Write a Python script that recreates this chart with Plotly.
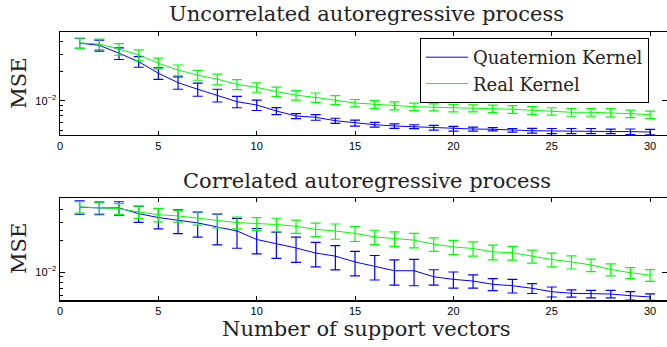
import plotly.graph_objects as go

n_sv = list(range(1, 31))

# Uncorrelated autoregressive process
unc_quat = [0.0388, 0.0369, 0.0306, 0.0251, 0.0191, 0.0153, 0.0131, 0.0114, 0.00977, 0.00904,
            0.00784, 0.00697, 0.00676, 0.00624, 0.00591, 0.00568, 0.00551, 0.00542, 0.00529, 0.00517,
            0.00513, 0.00510, 0.00498, 0.00493, 0.00490, 0.00490, 0.00490, 0.00486, 0.00482, 0.00478]
unc_quat_err = [0.0045, 0.0048, 0.0042, 0.0031, 0.0026, 0.0022, 0.0020, 0.0017, 0.0013, 0.0011,
                0.00064, 0.00041, 0.00045, 0.00037, 0.00042, 0.00031, 0.00029, 0.00025, 0.00029, 0.00028,
                0.00024, 0.00020, 0.00021, 0.00027, 0.00029, 0.00029, 0.00029, 0.00026, 0.00031, 0.00031]
unc_real = [0.0390, 0.0380, 0.0338, 0.0294, 0.0242, 0.0206, 0.0183, 0.0166, 0.0147, 0.0137,
            0.0124, 0.0114, 0.0108, 0.0102, 0.00947, 0.00919, 0.00889, 0.00868, 0.00856, 0.00842,
            0.00836, 0.00828, 0.00817, 0.00797, 0.00779, 0.00761, 0.00761, 0.00754, 0.00736, 0.00719]
unc_real_err = [0.0046, 0.0046, 0.0046, 0.0038, 0.0031, 0.0026, 0.0021, 0.0021, 0.0017, 0.0015,
                0.00136, 0.00125, 0.00119, 0.00108, 0.00082, 0.00083, 0.00084, 0.00078, 0.00070, 0.00073,
                0.00069, 0.00072, 0.00074, 0.00072, 0.00068, 0.00068, 0.00068, 0.00075, 0.00064, 0.00063]

# Correlated autoregressive process
cor_quat = [0.0418, 0.0410, 0.0410, 0.0362, 0.0332, 0.0313, 0.0295, 0.0270, 0.0247, 0.0205,
            0.0188, 0.0170, 0.0152, 0.0142, 0.0125, 0.0114, 0.0103, 0.0103, 0.00902, 0.00852,
            0.00821, 0.00764, 0.00741, 0.00700, 0.00649, 0.00627, 0.00617, 0.00617, 0.00595, 0.00578]
cor_quat_err = [0.0061, 0.0057, 0.0060, 0.0063, 0.0073, 0.0080, 0.0079, 0.0088, 0.0078, 0.0056,
                0.0053, 0.0046, 0.0040, 0.0037, 0.0033, 0.0030, 0.0028, 0.0029, 0.0015, 0.0015,
                0.0012, 0.0010, 0.0011, 0.00076, 0.00071, 0.00050, 0.00051, 0.00051, 0.00054, 0.00042]
cor_real = [0.0419, 0.0410, 0.0404, 0.0375, 0.0354, 0.0344, 0.0329, 0.0313, 0.0297, 0.0291,
            0.0285, 0.0274, 0.0256, 0.0247, 0.0234, 0.0217, 0.0209, 0.0202, 0.0185, 0.0174,
            0.0168, 0.0156, 0.0153, 0.0142, 0.0132, 0.0125, 0.0117, 0.0106, 0.00985, 0.00936]
cor_real_err = [0.0053, 0.0049, 0.0048, 0.0051, 0.0052, 0.0044, 0.0048, 0.0048, 0.0038, 0.0041,
                0.0042, 0.0040, 0.0038, 0.0041, 0.0038, 0.0034, 0.0033, 0.0032, 0.0027, 0.0027,
                0.0026, 0.0025, 0.0023, 0.0020, 0.0020, 0.0018, 0.0016, 0.0014, 0.0012, 0.0012]

x_ticks = [0, 5, 10, 15, 20, 25, 30]
y_ticks = [0.01]
y_ticktext = ["10<sup>\u22122</sup>"]

BLUE = "rgb(0,0,255)"
GREEN = "rgb(0,255,0)"
SERIF = "DejaVu Serif"
SANS = "Liberation Sans"
W, H, L = 667, 347, 60

fig = go.Figure()


def add_series(x, y, err, color, name, xa, ya, show):
    fig.add_trace(go.Scatter(
        x=x, y=y, mode="lines", name=name, showlegend=show,
        line=dict(color=color, width=1),
        error_y=dict(type="data", array=err, visible=True, color=color, thickness=1.2, width=5),
        xaxis=xa, yaxis=ya,
    ))


add_series(n_sv, unc_quat, unc_quat_err, BLUE, "Quaternion Kernel", "x", "y", True)
add_series(n_sv, unc_real, unc_real_err, GREEN, "Real Kernel", "x", "y", True)
add_series(n_sv, cor_quat, cor_quat_err, BLUE, "Quaternion Kernel", "x2", "y2", False)
add_series(n_sv, cor_real, cor_real_err, GREEN, "Real Kernel", "x2", "y2", False)

# invisible traces so the right-side tick axes are drawn
fig.add_trace(go.Scatter(x=n_sv, y=unc_real, mode="lines", line=dict(width=0), opacity=0,
                         showlegend=False, hoverinfo="skip", xaxis="x", yaxis="y3"))
fig.add_trace(go.Scatter(x=n_sv, y=cor_real, mode="lines", line=dict(width=0), opacity=0,
                         showlegend=False, hoverinfo="skip", xaxis="x2", yaxis="y4"))

xr = [0, 30.86]
top_dom = [0.6110, 0.9069]
bot_dom = [0.1354, 0.4285]
top_range = [-2.351, -1.300]
bot_range = [-2.267, -1.295]

xcommon = dict(range=xr, tickvals=x_ticks, ticks="inside", ticklen=4, tickcolor="black",
               showline=True, linecolor="black", linewidth=1.5, mirror="ticks", showgrid=False,
               zeroline=False, tickfont=dict(family=SANS, size=11, color="black"))
ycommon = dict(type="log", tickvals=y_ticks, ticktext=y_ticktext, ticks="inside", ticklen=5,
               tickcolor="black", showline=True, linecolor="black", linewidth=1.5, mirror=False,
               showgrid=False, zeroline=False, tickfont=dict(family=SANS, size=11, color="black"),
               minor=dict(ticks="inside", ticklen=3, tickcolor="black", dtick="D1", showgrid=False))
yright = dict(type="log", tickvals=y_ticks, ticks="inside", ticklen=5, tickcolor="black",
              showline=False, showgrid=False, zeroline=False, showticklabels=False, side="right")

fig.update_layout(
    width=W, height=H,
    margin=dict(l=L, r=0, t=0, b=0),
    paper_bgcolor="white", plot_bgcolor="white",
    xaxis=dict(domain=[0, 1], anchor="y", **xcommon),
    yaxis=dict(domain=top_dom, anchor="x", range=top_range, **ycommon),
    xaxis2=dict(domain=[0, 1], anchor="y2", **xcommon),
    yaxis2=dict(domain=bot_dom, anchor="x2", range=bot_range, **ycommon),
    yaxis3=dict(overlaying="y", anchor="x", range=top_range, **yright),
    yaxis4=dict(overlaying="y2", anchor="x2", range=bot_range, **yright),
    legend=dict(x=(420 - L) / (W - L), y=1 - 38 / H, xanchor="left", yanchor="top",
                bordercolor="black", borderwidth=1, bgcolor="white", itemwidth=42,
                font=dict(family=SERIF, size=18, color="#222"), tracegroupgap=0),
    showlegend=True,
)


def px_x(px):
    return (px - L) / (W - L)


def px_y(py):
    return 1 - py / H


ann = [
    dict(text="Uncorrelated autoregressive process", x=366, y=13.5, size=21),
    dict(text="Correlated autoregressive process", x=367, y=181, size=21),
    dict(text="Number of support vectors", x=366, y=329, size=21),
]
for a in ann:
    fig.add_annotation(text=a["text"], xref="paper", yref="paper",
                       x=px_x(a["x"]), y=px_y(a["y"]), xanchor="center", yanchor="middle",
                       showarrow=False, font=dict(family=SERIF, size=a["size"], color="#222"))
for yc in [83.7, 249]:
    fig.add_annotation(text="MSE", xref="paper", yref="paper", x=px_x(19), y=px_y(yc),
                       xanchor="center", yanchor="middle", textangle=-90, showarrow=False,
                       font=dict(family=SERIF, size=21, color="#222"))

fig.write_html("out.html", config={"displayModeBar": False, "staticPlot": True},
               post_script="document.body.style.margin='0px';document.body.style.overflow='hidden';")
